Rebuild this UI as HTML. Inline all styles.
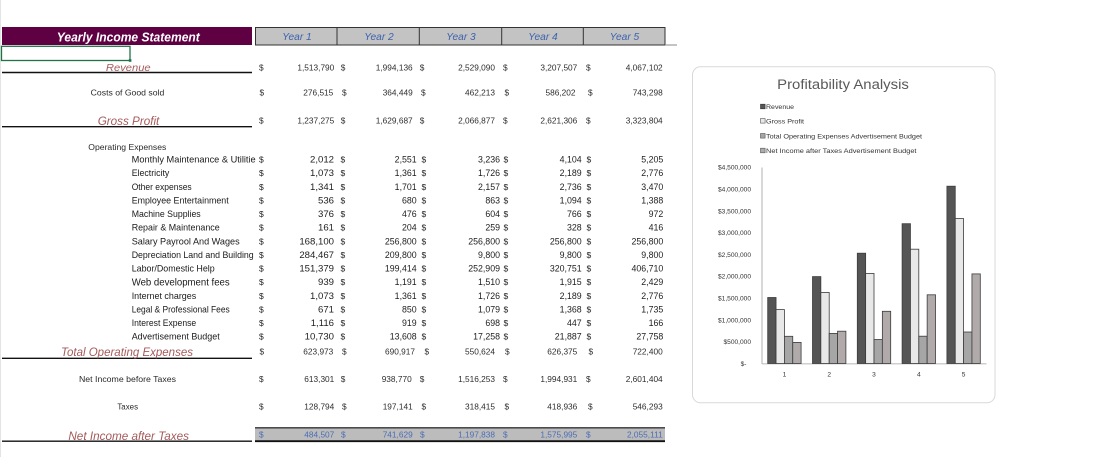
<!DOCTYPE html>
<html><head><meta charset="utf-8"><style>
html,body{margin:0;padding:0;background:#fff;}
svg{display:block;}
text{font-family:"Liberation Sans",Arial,sans-serif;}
</style></head><body>
<svg width="1099" height="457" viewBox="0 0 1099 457" xmlns="http://www.w3.org/2000/svg">
<rect x="0" y="0" width="1099" height="457" fill="#fff"/>
<line x1="0.5" y1="0" x2="0.5" y2="457" stroke="#e4e4e4" stroke-width="1"/>

<!-- Header -->
<rect x="2" y="27" width="250" height="18" fill="#5f0043"/>
<text x="128.3" y="41.6" fill="#fff" font-size="12.5" font-weight="bold" font-style="italic" text-anchor="middle" textLength="143" lengthAdjust="spacingAndGlyphs">Yearly Income Statement</text>
<rect x="255.5" y="27.5" width="409.5" height="17.5" fill="#c3c3c3" stroke="#333" stroke-width="1"/>
<line x1="337" y1="27.5" x2="337" y2="45" stroke="#333" stroke-width="1"/>
<line x1="419.3" y1="27.5" x2="419.3" y2="45" stroke="#333" stroke-width="1"/>
<line x1="501.7" y1="27.5" x2="501.7" y2="45" stroke="#333" stroke-width="1"/>
<line x1="583.3" y1="27.5" x2="583.3" y2="45" stroke="#333" stroke-width="1"/>
<line x1="665" y1="45" x2="677" y2="45" stroke="#888" stroke-width="1"/>
<g fill="#3c62ad" font-size="10.2" font-style="italic" text-anchor="middle">
<text x="297" y="40">Year 1</text>
<text x="379" y="40">Year 2</text>
<text x="461" y="40">Year 3</text>
<text x="543" y="40">Year 4</text>
<text x="624.5" y="40">Year 5</text>
</g>

<!-- selected cell -->
<rect x="1.5" y="46.3" width="128.5" height="14.2" fill="none" stroke="#217346" stroke-width="1.3"/>
<rect x="128.8" y="59.2" width="2.6" height="2.6" fill="#217346"/>

<!-- underlines -->
<g stroke="#111" stroke-width="1.4">
<line x1="2" y1="72.5" x2="252" y2="72.5"/>
<line x1="2" y1="126.7" x2="252" y2="126.7"/>
<line x1="2" y1="358.3" x2="252" y2="358.3"/>
<line x1="2" y1="441.2" x2="252" y2="441.2"/>
</g>

<!-- red italic labels -->
<g fill="#a65a5a" font-style="italic">
<text x="128.3" y="71" font-size="10.5" text-anchor="middle" textLength="44.7" lengthAdjust="spacingAndGlyphs">Revenue</text>
<text x="128.5" y="124.8" font-size="12" text-anchor="middle" textLength="61.6" lengthAdjust="spacingAndGlyphs">Gross Profit</text>
<text x="61" y="355.8" font-size="11.5" textLength="132" lengthAdjust="spacingAndGlyphs">Total Operating Expenses</text>
<text x="128.7" y="440" font-size="11.5" text-anchor="middle" textLength="120.7" lengthAdjust="spacingAndGlyphs">Net Income after Taxes</text>
</g>

<!-- black labels -->
<g fill="#2a2a2a" font-size="8.6">
<text x="127.5" y="95.3" text-anchor="middle" textLength="73.6" lengthAdjust="spacingAndGlyphs">Costs of Good sold</text>
<text x="88.3" y="150" textLength="78" lengthAdjust="spacingAndGlyphs">Operating Expenses</text>
<text x="127.5" y="382" text-anchor="middle" textLength="97" lengthAdjust="spacingAndGlyphs">Net Income before Taxes</text>
<text x="127.7" y="409.7" text-anchor="middle" textLength="20.7" lengthAdjust="spacingAndGlyphs">Taxes</text>
</g>
<g fill="#1a1a1a" font-size="9.2">
<text x="131.7" y="162.6" textLength="124" lengthAdjust="spacingAndGlyphs">Monthly Maintenance &amp; Utilitie</text>
<text x="131.7" y="176.2" textLength="37.6" lengthAdjust="spacingAndGlyphs">Electricity</text>
<text x="131.7" y="189.8" textLength="60" lengthAdjust="spacingAndGlyphs">Other expenses</text>
<text x="131.7" y="203.5" textLength="97" lengthAdjust="spacingAndGlyphs">Employee Entertainment</text>
<text x="131.7" y="217.1" textLength="69" lengthAdjust="spacingAndGlyphs">Machine Supplies</text>
<text x="131.7" y="230.7" textLength="88" lengthAdjust="spacingAndGlyphs">Repair &amp; Maintenance</text>
<text x="131.7" y="244.3" textLength="108" lengthAdjust="spacingAndGlyphs">Salary Payrool And Wages</text>
<text x="131.7" y="258" textLength="122" lengthAdjust="spacingAndGlyphs">Depreciation Land and Building</text>
<text x="131.7" y="271.6" textLength="83" lengthAdjust="spacingAndGlyphs">Labor/Domestic Help</text>
<text x="131.7" y="285.4" font-size="9.8" textLength="98" lengthAdjust="spacingAndGlyphs">Web development fees</text>
<text x="131.7" y="298.8" textLength="64.5" lengthAdjust="spacingAndGlyphs">Internet charges</text>
<text x="131.7" y="312.5" textLength="98" lengthAdjust="spacingAndGlyphs">Legal &amp; Professional Fees</text>
<text x="131.7" y="326.1" textLength="64.5" lengthAdjust="spacingAndGlyphs">Interest Expense</text>
<text x="131.7" y="339.7" textLength="88" lengthAdjust="spacingAndGlyphs">Advertisement Budget</text>
</g>

<!-- top rows numbers -->
<g fill="#2e2e2e" font-size="8.3">
<!-- Revenue -->
<text x="259" y="70.3">$</text>
<g text-anchor="end"><text x="334.3" y="70.3">1,513,790</text><text x="412.7" y="70.3">1,994,136</text><text x="495" y="70.3">2,529,090</text><text x="577.3" y="70.3">3,207,507</text><text x="662.7" y="70.3">4,067,102</text></g>
<text x="340.7" y="70.3">$</text><text x="419.7" y="70.3">$</text><text x="503" y="70.3">$</text><text x="586" y="70.3">$</text>
<!-- COGS -->
<text x="259.5" y="95.3">$</text>
<g text-anchor="end"><text x="333.3" y="95.3">276,515</text><text x="412.7" y="95.3">364,449</text><text x="495" y="95.3">462,213</text><text x="575.5" y="95.3">586,202</text><text x="662.7" y="95.3">743,298</text></g>
<text x="342" y="95.3">$</text><text x="421" y="95.3">$</text><text x="504.5" y="95.3">$</text><text x="588" y="95.3">$</text>
<!-- GP -->
<text x="259" y="123.7">$</text>
<g text-anchor="end"><text x="334.3" y="123.7">1,237,275</text><text x="412.7" y="123.7">1,629,687</text><text x="495" y="123.7">2,066,877</text><text x="577.3" y="123.7">2,621,306</text><text x="662.7" y="123.7">3,323,804</text></g>
<text x="340.7" y="123.7">$</text><text x="419.7" y="123.7">$</text><text x="503" y="123.7">$</text><text x="586" y="123.7">$</text>
<!-- Total opex -->
<text x="259.5" y="354.7">$</text>
<g text-anchor="end"><text x="333.3" y="354.7">623,973</text><text x="415" y="354.7">690,917</text><text x="495" y="354.7">550,624</text><text x="577.3" y="354.7">626,375</text><text x="662.7" y="354.7">722,400</text></g>
<text x="342" y="354.7">$</text><text x="424.5" y="354.7">$</text><text x="505" y="354.7">$</text><text x="588.5" y="354.7">$</text>
<!-- NIBT -->
<text x="259" y="382">$</text>
<g text-anchor="end"><text x="334.3" y="382">613,301</text><text x="411.7" y="382">938,770</text><text x="495" y="382">1,516,253</text><text x="577.3" y="382">1,994,931</text><text x="662.7" y="382">2,601,404</text></g>
<text x="340.7" y="382">$</text><text x="419.7" y="382">$</text><text x="503" y="382">$</text><text x="586" y="382">$</text>
<!-- Taxes -->
<text x="259" y="409.7">$</text>
<g text-anchor="end"><text x="334.3" y="409.7">128,794</text><text x="412.7" y="409.7">197,141</text><text x="495" y="409.7">318,415</text><text x="577.3" y="409.7">418,936</text><text x="662.7" y="409.7">546,293</text></g>
<text x="342" y="409.7">$</text><text x="421.5" y="409.7">$</text><text x="504.5" y="409.7">$</text><text x="588" y="409.7">$</text>
</g>

<!-- item numbers -->
<g fill="#1e1e1e" font-size="8.8">
<g font-size="8.5">
<text x="259" y="162.6">$</text><text x="259" y="176.2">$</text><text x="259" y="189.8">$</text><text x="259" y="203.5">$</text><text x="259" y="217.1">$</text><text x="259" y="230.7">$</text><text x="259" y="244.3">$</text><text x="259" y="258">$</text><text x="259" y="271.6">$</text><text x="259" y="285.2">$</text><text x="259" y="298.8">$</text><text x="259" y="312.5">$</text><text x="259" y="326.1">$</text><text x="259" y="339.7">$</text>
</g>
<g text-anchor="end" font-size="9.6">
<text x="334" y="162.6">2,012</text><text x="334" y="176.2">1,073</text><text x="334" y="189.8">1,341</text><text x="334" y="203.5">536</text><text x="334" y="217.1">376</text><text x="334" y="230.7">161</text><text x="334" y="244.3">168,100</text><text x="334" y="258">284,467</text><text x="334" y="271.6">151,379</text><text x="334" y="285.2">939</text><text x="334" y="298.8">1,073</text><text x="334" y="312.5">671</text><text x="334" y="326.1">1,116</text><text x="334" y="339.7">10,730</text>
</g>
<g text-anchor="end">
<text x="416.7" y="162.6">2,551</text><text x="416.7" y="176.2">1,361</text><text x="416.7" y="189.8">1,701</text><text x="416.7" y="203.5">680</text><text x="416.7" y="217.1">476</text><text x="416.7" y="230.7">204</text><text x="416.7" y="244.3">256,800</text><text x="416.7" y="258">209,800</text><text x="416.7" y="271.6">199,414</text><text x="416.7" y="285.2">1,191</text><text x="416.7" y="298.8">1,361</text><text x="416.7" y="312.5">850</text><text x="416.7" y="326.1">919</text><text x="416.7" y="339.7">13,608</text>
<text x="500" y="162.6">3,236</text><text x="500" y="176.2">1,726</text><text x="500" y="189.8">2,157</text><text x="500" y="203.5">863</text><text x="500" y="217.1">604</text><text x="500" y="230.7">259</text><text x="500" y="244.3">256,800</text><text x="500" y="258">9,800</text><text x="500" y="271.6">252,909</text><text x="500" y="285.2">1,510</text><text x="500" y="298.8">1,726</text><text x="500" y="312.5">1,079</text><text x="500" y="326.1">698</text><text x="500" y="339.7">17,258</text>
<text x="581.7" y="162.6">4,104</text><text x="581.7" y="176.2">2,189</text><text x="581.7" y="189.8">2,736</text><text x="581.7" y="203.5">1,094</text><text x="581.7" y="217.1">766</text><text x="581.7" y="230.7">328</text><text x="581.7" y="244.3">256,800</text><text x="581.7" y="258">9,800</text><text x="581.7" y="271.6">320,751</text><text x="581.7" y="285.2">1,915</text><text x="581.7" y="298.8">2,189</text><text x="581.7" y="312.5">1,368</text><text x="581.7" y="326.1">447</text><text x="581.7" y="339.7">21,887</text>
<text x="663.3" y="162.6">5,205</text><text x="663.3" y="176.2">2,776</text><text x="663.3" y="189.8">3,470</text><text x="663.3" y="203.5">1,388</text><text x="663.3" y="217.1">972</text><text x="663.3" y="230.7">416</text><text x="663.3" y="244.3">256,800</text><text x="663.3" y="258">9,800</text><text x="663.3" y="271.6">406,710</text><text x="663.3" y="285.2">2,429</text><text x="663.3" y="298.8">2,776</text><text x="663.3" y="312.5">1,735</text><text x="663.3" y="326.1">166</text><text x="663.3" y="339.7">27,758</text>
</g>
<g font-size="8.5">
<text x="340.5" y="162.6">$</text><text x="340.5" y="176.2">$</text><text x="340.5" y="189.8">$</text><text x="340.5" y="203.5">$</text><text x="340.5" y="217.1">$</text><text x="340.5" y="230.7">$</text><text x="340.5" y="244.3">$</text><text x="340.5" y="258">$</text><text x="340.5" y="271.6">$</text><text x="340.5" y="285.2">$</text><text x="340.5" y="298.8">$</text><text x="340.5" y="312.5">$</text><text x="340.5" y="326.1">$</text><text x="340.5" y="339.7">$</text>
<text x="421.5" y="162.6">$</text><text x="421.5" y="176.2">$</text><text x="421.5" y="189.8">$</text><text x="421.5" y="203.5">$</text><text x="421.5" y="217.1">$</text><text x="421.5" y="230.7">$</text><text x="421.5" y="244.3">$</text><text x="421.5" y="258">$</text><text x="421.5" y="271.6">$</text><text x="421.5" y="285.2">$</text><text x="421.5" y="298.8">$</text><text x="421.5" y="312.5">$</text><text x="421.5" y="326.1">$</text><text x="421.5" y="339.7">$</text>
<text x="503.5" y="162.6">$</text><text x="503.5" y="176.2">$</text><text x="503.5" y="189.8">$</text><text x="503.5" y="203.5">$</text><text x="503.5" y="217.1">$</text><text x="503.5" y="230.7">$</text><text x="503.5" y="244.3">$</text><text x="503.5" y="258">$</text><text x="503.5" y="271.6">$</text><text x="503.5" y="285.2">$</text><text x="503.5" y="298.8">$</text><text x="503.5" y="312.5">$</text><text x="503.5" y="326.1">$</text><text x="503.5" y="339.7">$</text>
<text x="586.5" y="162.6">$</text><text x="586.5" y="176.2">$</text><text x="586.5" y="189.8">$</text><text x="586.5" y="203.5">$</text><text x="586.5" y="217.1">$</text><text x="586.5" y="230.7">$</text><text x="586.5" y="244.3">$</text><text x="586.5" y="258">$</text><text x="586.5" y="271.6">$</text><text x="586.5" y="285.2">$</text><text x="586.5" y="298.8">$</text><text x="586.5" y="312.5">$</text><text x="586.5" y="326.1">$</text><text x="586.5" y="339.7">$</text>
</g>
</g>

<!-- NIAT band -->
<rect x="255" y="427.5" width="410" height="13.5" fill="#bcbcbc"/>
<line x1="255" y1="427.8" x2="665" y2="427.8" stroke="#333" stroke-width="1.3"/>
<line x1="255" y1="441.2" x2="665" y2="441.2" stroke="#111" stroke-width="1.8"/>
<g fill="#4a6db5" font-size="8.3">
<text x="259" y="437.3">$</text>
<g text-anchor="end"><text x="334.3" y="437.3">484,507</text><text x="412.7" y="437.3">741,629</text><text x="495" y="437.3">1,197,838</text><text x="577.3" y="437.3">1,575,995</text><text x="662.7" y="437.3">2,055,111</text></g>
<text x="341" y="437.3">$</text><text x="420" y="437.3">$</text><text x="503" y="437.3">$</text><text x="586" y="437.3">$</text>
</g>

<!-- Chart -->
<rect x="692.5" y="66.8" width="302.5" height="336" rx="8" ry="8" fill="#fff" stroke="#d9d9d9" stroke-width="1"/>
<text x="843" y="88.8" fill="#595959" font-size="13.5" text-anchor="middle" textLength="131.7" lengthAdjust="spacingAndGlyphs">Profitability Analysis</text>

<!-- legend -->
<rect x="760.5" y="104.2" width="4.6" height="4.6" fill="#555" stroke="#333" stroke-width="0.6"/>
<rect x="760.5" y="118.5" width="4.6" height="4.6" fill="#e8e8e8" stroke="#555" stroke-width="0.6"/>
<rect x="760.5" y="133.5" width="4.6" height="4.6" fill="#a6a6a6" stroke="#555" stroke-width="0.6"/>
<rect x="760.5" y="148.2" width="4.6" height="4.6" fill="#b0aaaa" stroke="#555" stroke-width="0.6"/>
<g fill="#333" font-size="6.5">
<text x="766" y="109" textLength="28" lengthAdjust="spacingAndGlyphs">Revenue</text>
<text x="766" y="123.3" textLength="38" lengthAdjust="spacingAndGlyphs">Gross Profit</text>
<text x="766" y="138.3" textLength="156" lengthAdjust="spacingAndGlyphs">Total Operating Expenses Advertisement Budget</text>
<text x="766" y="153" textLength="150.5" lengthAdjust="spacingAndGlyphs">Net Income after Taxes Advertisement Budget</text>
</g>

<!-- y axis labels -->
<g fill="#333" font-size="6.6" text-anchor="end">
<text x="751" y="169.7">$4,500,000</text>
<text x="751" y="191.5">$4,000,000</text>
<text x="751" y="213.3">$3,500,000</text>
<text x="751" y="235.1">$3,000,000</text>
<text x="751" y="256.9">$2,500,000</text>
<text x="751" y="278.7">$2,000,000</text>
<text x="751" y="300.5">$1,500,000</text>
<text x="751" y="322.3">$1,000,000</text>
<text x="751" y="344.1">$500,000</text>
<text x="746.5" y="365.9">$-</text>
</g>
<line x1="762" y1="167.5" x2="762" y2="364" stroke="#bfbfbf" stroke-width="1.2"/>
<line x1="762" y1="363.8" x2="986.5" y2="363.8" stroke="#bfbfbf" stroke-width="1.2"/>

<!-- bars -->
<g stroke="#3c3c3c" stroke-width="0.8">
<!-- cat 1 -->
<rect x="767.7" y="297.5" width="8.35" height="66" fill="#555"/>
<rect x="776.05" y="309.6" width="8.35" height="53.9" fill="#e8e8e8"/>
<rect x="784.4" y="336.3" width="8.35" height="27.2" fill="#a6a6a6"/>
<rect x="792.75" y="342.4" width="8.35" height="21.1" fill="#b0aaaa"/>
<!-- cat 2 -->
<rect x="812.5" y="276.6" width="8.35" height="86.9" fill="#555"/>
<rect x="820.85" y="292.4" width="8.35" height="71.1" fill="#e8e8e8"/>
<rect x="829.2" y="333.4" width="8.35" height="30.1" fill="#a6a6a6"/>
<rect x="837.55" y="331.2" width="8.35" height="32.3" fill="#b0aaaa"/>
<!-- cat 3 -->
<rect x="857.3" y="253.2" width="8.35" height="110.3" fill="#555"/>
<rect x="865.65" y="273.4" width="8.35" height="90.1" fill="#e8e8e8"/>
<rect x="874" y="339.5" width="8.35" height="24" fill="#a6a6a6"/>
<rect x="882.35" y="311.3" width="8.35" height="52.2" fill="#b0aaaa"/>
<!-- cat 4 -->
<rect x="902.1" y="223.7" width="8.35" height="139.8" fill="#555"/>
<rect x="910.45" y="249.2" width="8.35" height="114.3" fill="#e8e8e8"/>
<rect x="918.8" y="336.2" width="8.35" height="27.3" fill="#a6a6a6"/>
<rect x="927.15" y="294.8" width="8.35" height="68.7" fill="#b0aaaa"/>
<!-- cat 5 -->
<rect x="946.9" y="186.2" width="8.35" height="177.3" fill="#555"/>
<rect x="955.25" y="218.6" width="8.35" height="144.9" fill="#e8e8e8"/>
<rect x="963.6" y="332" width="8.35" height="31.5" fill="#a6a6a6"/>
<rect x="971.95" y="273.9" width="8.35" height="89.6" fill="#b0aaaa"/>
</g>

<!-- x labels -->
<g fill="#333" font-size="6.6" text-anchor="middle">
<text x="784.4" y="376.3">1</text>
<text x="829.2" y="376.3">2</text>
<text x="874" y="376.3">3</text>
<text x="918.8" y="376.3">4</text>
<text x="963.6" y="376.3">5</text>
</g>
</svg>
</body></html>
